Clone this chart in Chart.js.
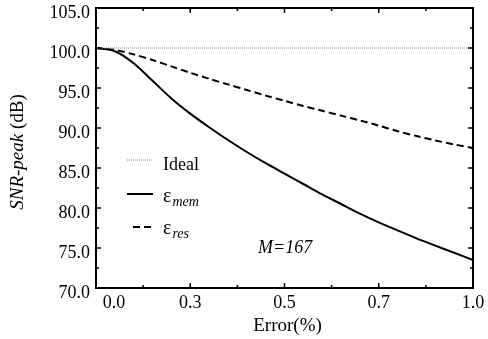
<!DOCTYPE html>
<html><head><meta charset="utf-8">
<style>html,body{margin:0;padding:0;background:#fff;overflow:hidden}#wrap{width:488px;height:339px}</style>
<script src="https://cdn.jsdelivr.net/npm/chart.js@4.4.1/dist/chart.umd.min.js"></script>
</head><body><div id="wrap"><canvas id="c" width="488" height="339"></canvas></div>
<script>
const errorPct = [0,0.05,0.1,0.15,0.2,0.25,0.3,0.35,0.4,0.45,0.5,0.55,0.6,0.65,0.7,0.75,0.8,0.85,0.9,0.95,1.0];
const snrIdeal = [100,100,100,100,100,100,100,100,100,100,100,100,100,100,100,100,100,100,100,100,100];
const snrMem   = [100,99.6,98.1,95.9,93.7,91.8,90.1,88.5,87.0,85.6,84.3,83.0,81.7,80.5,79.3,78.2,77.2,76.2,75.3,74.4,73.5];
const snrRes   = [100,99.75,99.2,98.5,97.7,96.9,96.15,95.45,94.75,94.05,93.4,92.75,92.15,91.55,90.95,90.3,89.6,89.0,88.45,87.95,87.5];
const xTickValues = [0,0.25,0.5,0.75,1.0];
const xTickLabels = ['0.0','0.3','0.5','0.7','1.0'];
const yTickValues = [70,75,80,85,90,95,100,105];
const yTickLabels = ['70.0','75.0','80.0','85.0','90.0','95.0','100.0','105.0'];
const seriesNames = ['Ideal','\u03b5','\u03b5'];
const seriesSubs  = ['','mem','res'];
const xTitle = 'Error(%)';
const yTitleItalic = 'SNR-peak';
const yTitleRest = ' (dB)';
const noteText = 'M=167';

const FONT = "'Liberation Serif', 'Times New Roman', serif";
const toPts = ys => errorPct.map((x,i)=>({x:x,y:ys[i]}));
const findIdx = (arr,v) => arr.findIndex(t => Math.abs(t-v) < 1e-9);

const framePlugin = {
  id:'frame',
  afterDatasetsDraw(chart){
    const {ctx, chartArea:a, scales:{x,y}} = chart;
    ctx.save();
    ctx.strokeStyle='#000';
    ctx.lineWidth=1.5;
    x.ticks.forEach(t=>{
      const px=x.getPixelForValue(t.value);
      const len = findIdx(xTickValues,t.value)>=0?5:3;
      ctx.beginPath();
      ctx.moveTo(px,a.bottom);ctx.lineTo(px,a.bottom-len);
      ctx.moveTo(px,a.top);ctx.lineTo(px,a.top+len);
      ctx.stroke();
    });
    y.ticks.forEach(t=>{
      const py=y.getPixelForValue(t.value);
      const len = findIdx(yTickValues,t.value)>=0?5:3;
      ctx.beginPath();
      ctx.moveTo(a.left,py);ctx.lineTo(a.left+len,py);
      ctx.moveTo(a.right,py);ctx.lineTo(a.right-len,py);
      ctx.stroke();
    });
    ctx.lineWidth=2;
    ctx.strokeRect(a.left,a.top,a.right-a.left,a.bottom-a.top);
    ctx.restore();
  },
  afterDraw(chart){
    const {ctx, chartArea:a} = chart;
    ctx.save();
    ctx.fillStyle='#000';
    ctx.textBaseline='middle';
    ctx.font = "19px "+FONT;
    ctx.textAlign='center';
    ctx.fillText(xTitle,(a.left+a.right)/2+3,326);
    ctx.translate(18,(a.top+a.bottom)/2+4);
    ctx.rotate(-Math.PI/2);
    ctx.font = "italic 19px "+FONT;
    const w1 = ctx.measureText(yTitleItalic).width;
    ctx.font = "19px "+FONT;
    const w2 = ctx.measureText(yTitleRest).width;
    ctx.textAlign='left';
    ctx.font = "italic 19px "+FONT;
    ctx.fillText(yTitleItalic,-(w1+w2)/2,0);
    ctx.font = "19px "+FONT;
    ctx.fillText(yTitleRest,-(w1+w2)/2+w1,0);
    ctx.setTransform(1,0,0,1,0,0);
    const rows=[{ly:160,ty:165},{ly:194,ty:197},{ly:227,ty:229}];
    chart.data.datasets.forEach((ds,i)=>{
      const r=rows[i];
      ctx.save();
      ctx.strokeStyle=ds.borderColor;
      ctx.lineWidth=ds.borderWidth;
      ctx.setLineDash(ds.borderDash||[]);
      ctx.beginPath();
      ctx.moveTo(i===2?133:127,r.ly);ctx.lineTo(153,r.ly);
      ctx.stroke();
      ctx.restore();
      ctx.textAlign='left';
      if(seriesSubs[i]){
        ctx.font="20px "+FONT;
        ctx.fillText(seriesNames[i],163,r.ty);
        const ew=ctx.measureText(seriesNames[i]).width;
        ctx.font="italic 14px "+FONT;
        ctx.fillText(seriesSubs[i],163+ew+1,r.ty+5);
      } else {
        ctx.font="18px "+FONT;
        ctx.fillText(seriesNames[i],163,r.ty);
      }
    });
    ctx.font="italic 18px "+FONT;
    ctx.fillText(noteText,258,248);
    ctx.restore();
  }
};

new Chart(document.getElementById('c'),{
  type:'line',
  data:{datasets:[
    {label:'Ideal',data:toPts(snrIdeal),borderColor:'#8a8a8a',borderWidth:1,borderDash:[1,1],pointRadius:0,fill:false},
    {label:'mem',data:toPts(snrMem),borderColor:'#000',borderWidth:2,pointRadius:0,fill:false,tension:0.3},
    {label:'res',data:toPts(snrRes),borderColor:'#000',borderWidth:2,borderDash:[7,4],pointRadius:0,fill:false,tension:0.3}
  ]},
  options:{
    responsive:false,animation:false,devicePixelRatio:1,
    layout:{padding:{top:8,right:15,left:0,bottom:0}},
    plugins:{legend:{display:false},tooltip:{enabled:false}},
    scales:{
      x:{type:'linear',min:0,max:1,
        afterFit(s){s.height=51;s.paddingLeft=0;s.paddingRight=0;},
        grid:{display:false,drawTicks:false},border:{display:false},
        ticks:{stepSize:0.125,autoSkip:false,maxRotation:0,padding:4,color:'#000',
          font:{family:FONT,size:18},
          callback(v){const i=findIdx(xTickValues,v);if(i<0)return '';return (v===0?'\u2003\u2003':'')+xTickLabels[i];}}
      },
      y:{type:'linear',min:70,max:105,
        afterFit(s){s.width=96;s.paddingTop=0;s.paddingBottom=0;},
        grid:{display:false,drawTicks:false},border:{display:false},
        ticks:{stepSize:2.5,autoSkip:false,padding:6,labelOffset:5,color:'#000',
          font:{family:FONT,size:18},
          callback(v){const i=findIdx(yTickValues,v);return i<0?'':yTickLabels[i];}}
      }
    }
  },
  plugins:[framePlugin]
});
</script></body></html>
